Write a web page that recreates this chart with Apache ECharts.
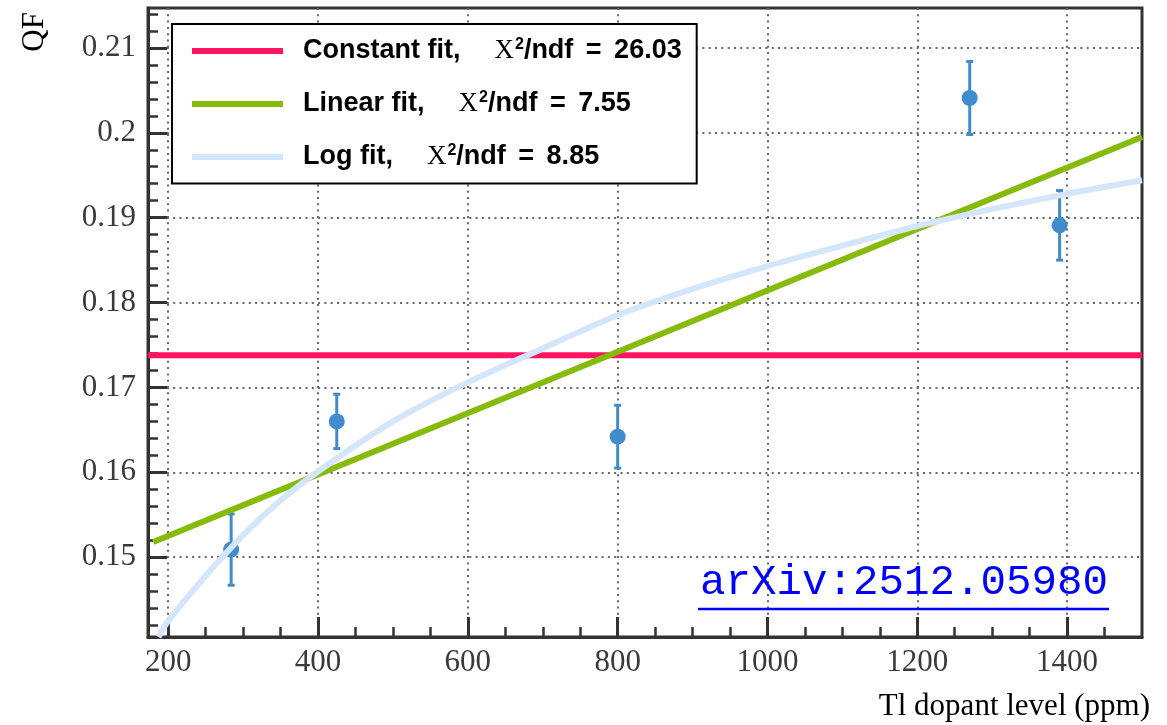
<!DOCTYPE html>
<html>
<head>
<meta charset="utf-8">
<script src="https://cdn.jsdelivr.net/npm/echarts@6/dist/echarts.min.js"></script>
<style>
  html, body { margin: 0; padding: 0; background: #fff; }
  #chart { width: 1167px; height: 725px; }
</style>
</head>
<body>
<div id="chart"></div>
<script>
// Axis extents and tick labels
const xRange = [173, 1500];
const yRange = [0.1406, 0.2147];
const xTicks = [200, 400, 600, 800, 1000, 1200, 1400];
const yTicks = [0.15, 0.16, 0.17, 0.18, 0.19, 0.2, 0.21];

// Measured quenching factor vs Tl dopant level
const dopant = [284, 425, 800, 1270, 1390];
const qf     = [0.1509, 0.1660, 0.1642, 0.2041, 0.1891];
const qfErr  = [0.0042, 0.0032, 0.0037, 0.0043, 0.0041];

// Fit curves
const constX  = [173, 1500];
const constQF = [0.1738, 0.1738];
const linX    = [180, 1500];
const linQF   = [0.1518, 0.1995];
const logX    = [187, 200, 250, 300, 350, 400, 500, 600, 700, 800, 900, 1000, 1100, 1200, 1300, 1400, 1500];
const logQF   = [0.1406, 0.1425, 0.1478, 0.1526, 0.1567, 0.1601, 0.1660, 0.1706, 0.1746, 0.1785, 0.1816, 0.1843, 0.1867, 0.1890, 0.1910, 0.1928, 0.1944];

const fitNames = ['Constant fit', 'Linear fit', 'Log fit'];
const fitChi2  = ['26.03', '7.55', '8.85'];

// minor tick positions (every quarter / fifth of a major step)
function steps(from, to, step, digits) {
  const out = [];
  for (let i = 0; from + i * step <= to + step * 1e-6; i++) out.push(+(from + i * step).toFixed(digits));
  return out;
}
const xMinor = steps(200, 1450, 50, 0);
const yMinor = steps(0.142, 0.214, 0.002, 3);

const pairs = (xs, ys) => xs.map((x, i) => [x, ys[i]]);

const axisColor = '#333';
const tickFont = { fontFamily: 'Liberation Serif', fontSize: 31, color: '#3a3a3a' };
const gridLine = { show: true, lineStyle: { color: '#666', width: 2, type: [2, 4.3] } };

const chart = echarts.init(document.getElementById('chart'), null, { renderer: 'canvas' });

const legendRich = {
  gap: { width: 15 },
  b:  { fontFamily: 'Liberation Sans', fontWeight: 'bold', fontSize: 27, color: '#000', lineHeight: 30 },
  sp: { width: 34 },
  sq: { width: 12.5 },
  x:  { fontFamily: 'Liberation Serif', fontSize: 27, color: '#000', lineHeight: 30 },
  s:  { fontFamily: 'Liberation Sans', fontWeight: 'bold', fontSize: 16, color: '#000', verticalAlign: 'top', lineHeight: 18, padding: [1, 0, 0, 1] }
};

chart.setOption({
  animation: false,
  backgroundColor: '#fff',
  grid: {
    left: 148, top: 8, right: 25, bottom: 88,
    show: true, borderColor: axisColor, borderWidth: 3, backgroundColor: 'transparent'
  },
  xAxis: [{
    type: 'value', min: xRange[0], max: xRange[1], position: 'bottom',
    axisLine: { show: true, onZero: false, lineStyle: { color: axisColor, width: 3 } },
    axisTick: { show: true, inside: true, length: 20, customValues: xTicks, lineStyle: { color: axisColor, width: 3 } },
    axisLabel: { show: true, customValues: xTicks, margin: 10, formatter: v => String(v), ...tickFont },
    splitLine: gridLine
  }, {
    type: 'value', min: xRange[0], max: xRange[1], position: 'bottom',
    axisLine: { show: false },
    axisTick: { show: true, inside: true, length: 10, customValues: xMinor, lineStyle: { color: axisColor, width: 2.5 } },
    axisLabel: { show: false },
    splitLine: { show: false }
  }],
  yAxis: [{
    type: 'value', min: yRange[0], max: yRange[1], position: 'left',
    axisLine: { show: true, onZero: false, lineStyle: { color: axisColor, width: 3 } },
    axisTick: { show: true, inside: true, length: 19, customValues: yTicks, lineStyle: { color: axisColor, width: 3 } },
    axisLabel: { show: true, customValues: yTicks, margin: 12, formatter: v => String(v), ...tickFont },
    splitLine: gridLine
  }, {
    type: 'value', min: yRange[0], max: yRange[1], position: 'left',
    axisLine: { show: false },
    axisTick: { show: true, inside: true, length: 10, customValues: yMinor, lineStyle: { color: axisColor, width: 2.5 } },
    axisLabel: { show: false },
    splitLine: { show: false }
  }],
  legend: {
    orient: 'vertical', left: 172, top: 24,
    padding: [12, 15, 13, 20],
    itemWidth: 91, itemHeight: 6, itemGap: 24.5,
    borderColor: '#000', borderWidth: 2, backgroundColor: '#fff',
    selectedMode: false,
    data: fitNames.map(n => ({ name: n, icon: 'rect' })),
    formatter: name => {
      const i = fitNames.indexOf(name);
      return '{gap|}{b|' + name + ',}{sp|}{x|Χ}{s|2}{b|/ndf}{sq|}{b|=}{sq|}{b|' + fitChi2[i] + '}';
    },
    textStyle: { rich: legendRich }
  },
  series: [{
    type: 'custom', name: 'data', z: 2, clip: true,
    data: dopant.map((x, i) => [x, qf[i], qfErr[i]]),
    encode: { x: 0, y: 1 },
    renderItem: (params, api) => {
      const x = api.value(0), y = api.value(1), e = api.value(2);
      const hi = api.coord([x, y + e]), lo = api.coord([x, y - e]), c = api.coord([x, y]);
      const st = { stroke: '#418ccd', lineWidth: 3 };
      return { type: 'group', children: [
        { type: 'line', shape: { x1: hi[0], y1: hi[1], x2: lo[0], y2: lo[1] }, style: st },
        { type: 'line', shape: { x1: hi[0] - 3.5, y1: hi[1], x2: hi[0] + 3.5, y2: hi[1] }, style: st },
        { type: 'line', shape: { x1: lo[0] - 3.5, y1: lo[1], x2: lo[0] + 3.5, y2: lo[1] }, style: st },
        { type: 'circle', shape: { cx: c[0], cy: c[1], r: 8 }, style: { fill: '#418ccd' } }
      ] };
    }
  }, {
    type: 'line', name: 'Constant fit', z: 3, showSymbol: false, symbol: 'none',
    data: pairs(constX, constQF),
    itemStyle: { color: '#fe1460' },
    lineStyle: { color: '#fe1460', width: 6 }
  }, {
    type: 'line', name: 'Linear fit', z: 4, showSymbol: false, symbol: 'none',
    data: pairs(linX, linQF),
    itemStyle: { color: '#86bb0c' },
    lineStyle: { color: '#86bb0c', width: 6 }
  }, {
    type: 'line', name: 'Log fit', z: 5, showSymbol: false, symbol: 'none',
    smooth: 0.3,
    data: pairs(logX, logQF),
    itemStyle: { color: '#d4e6fc' },
    lineStyle: { color: '#d4e6fc', width: 6 }
  }],
  graphic: [{
    type: 'text', x: 50, y: 12, rotation: Math.PI / 2,
    style: { text: 'QF', fontFamily: 'Liberation Serif', fontSize: 31, fill: '#000', align: 'right', verticalAlign: 'bottom' }
  }, {
    type: 'text', x: 1150, y: 707,
    style: { text: 'Tl dopant level (ppm)', fontFamily: 'Liberation Serif', fontSize: 31, fill: '#000', align: 'right', verticalAlign: 'middle' }
  }, {
    type: 'text', x: 700, y: 583, z: 10,
    style: { text: 'arXiv:2512.05980', fontFamily: 'Liberation Mono', fontSize: 42.5, fill: '#0000ff', align: 'left', verticalAlign: 'middle' }
  }, {
    type: 'line', z: 10,
    shape: { x1: 698, y1: 609, x2: 1109, y2: 609 },
    style: { stroke: '#0000ff', lineWidth: 2.5 }
  }]
});
</script>
</body>
</html>
